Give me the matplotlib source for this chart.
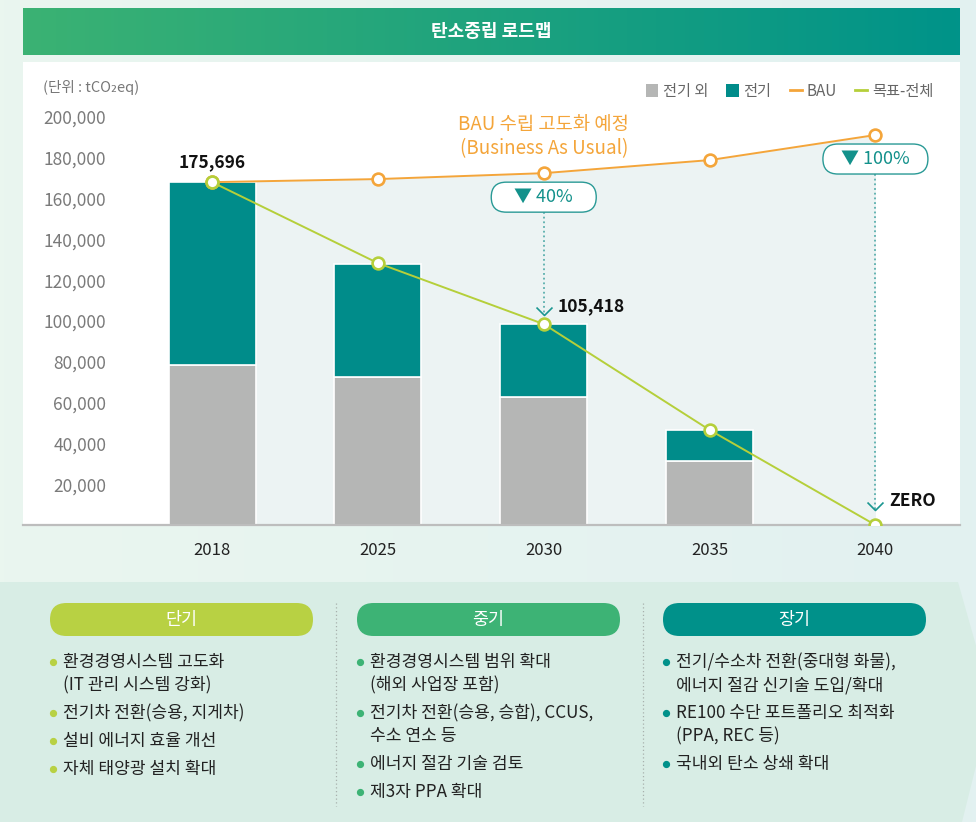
import numpy as np
import matplotlib.pyplot as plt
from matplotlib.patches import FancyBboxPatch, Polygon
from matplotlib.lines import Line2D
from matplotlib.path import Path
from matplotlib.colors import LinearSegmentedColormap

plt.rcParams['font.family'] = ['Noto Sans CJK KR', 'DejaVu Sans']

# ---- data ----
years = ["2018", "2025", "2030", "2035", "2040"]
non_elec = [78400, 72500, 62700, 31400, 0]
elec = [89700, 55500, 35800, 15200, 0]
bau = [168100, 169600, 172500, 178900, 191200]
target = [168100, 128400, 98500, 46600, 0]
yticks = [20000, 40000, 60000, 80000, 100000, 120000, 140000, 160000, 180000, 200000]

title = "탄소중립 로드맵"
unit_label = "(단위 : tCO\u2082eq)"
legend_labels = ["전기 외", "전기", "BAU", "목표-전체"]
bau_note = "BAU 수립 고도화 예정\n(Business As Usual)"
start_label = "175,696"
callouts = [(2, "▼ 40%", "105,418"), (4, "▼ 100%", "ZERO")]

phases = ["단기", "중기", "장기"]
phase_colors = ["#b8d143", "#3db375", "#00918a"]
short_term = ["환경경영시스템 고도화\n(IT 관리 시스템 강화)", "전기차 전환(승용, 지게차)",
              "설비 에너지 효율 개선", "자체 태양광 설치 확대"]
mid_term = ["환경경영시스템 범위 확대\n(해외 사업장 포함)", "전기차 전환(승용, 승합), CCUS,\n수소 연소 등",
            "에너지 절감 기술 검토", "제3자 PPA 확대"]
long_term = ["전기/수소차 전환(중대형 화물),\n에너지 절감 신기술 도입/확대",
             "RE100 수단 포트폴리오 최적화\n(PPA, REC 등)", "국내외 탄소 상쇄 확대"]

GRAY = "#b5b6b5"
TEAL = "#008c8a"
ORANGE = "#f4a53a"
LIME = "#b5cf3a"

W, H = 976, 822
fig = plt.figure(figsize=(W / 100, H / 100), dpi=100)

# ---- background layer in pixel coordinates ----
bg = fig.add_axes([0, 0, 1, 1])
grad = np.linspace(0, 1, 256).reshape(1, -1)
bg.imshow(grad, cmap=LinearSegmentedColormap.from_list("bg", ["#eaf6ef", "#e2f1f1"]),
          extent=[0, W, H, 0], aspect="auto")
bg.imshow(grad, cmap=LinearSegmentedColormap.from_list("tb", ["#3bb273", "#009389"]),
          extent=[23, 960, 55, 8], aspect="auto")
bg.text(491.5, 31.5, title, ha="center", va="center", color="white", fontsize=13, weight="bold")

bg.add_patch(Polygon([(0, 582), (958, 582), (992, 702), (962, 822), (0, 822)],
                     closed=True, fc="#d8ede5", ec="none"))
for sx in [336, 643]:
    bg.plot([sx, sx], [603, 806], ls=(0, (1, 2)), color="#a8b0ad", lw=0.9)

col_x = [50, 357, 663]
for x0, name, color, items in zip(col_x, phases, phase_colors, [short_term, mid_term, long_term]):
    bg.add_patch(FancyBboxPatch((x0, 603), 263, 33, boxstyle="round,pad=0,rounding_size=16.5",
                                fc=color, ec="none"))
    bg.text(x0 + 131.5, 619.5, name, ha="center", va="center", color="white", fontsize=12.5)
    y = 662
    for item in items:
        lines = item.split("\n")
        bg.plot(x0 + 3, y, "o", ms=4.2, color=color)
        for j, line in enumerate(lines):
            bg.text(x0 + 13, y + j * 23, line, ha="left", va="center", color="#222222", fontsize=12.3)
        y += 23 * (len(lines) - 1) + 28

bg.set_xlim(0, W)
bg.set_ylim(H, 0)
bg.axis("off")

# ---- chart ----
ax_w, ax_h = 937, 463
ax = fig.add_axes([23 / W, 1 - 525 / H, ax_w / W, ax_h / H])
xlim = (-1.14, 4.51)
ylim = (0, 227000)
px_x = (xlim[1] - xlim[0]) / ax_w
px_y = (ylim[1] - ylim[0]) / ax_h
x = np.arange(len(years))

ax.fill_between(x, 0, bau, color="#ecf3f3", lw=0, zorder=1)
b1 = ax.bar(x, non_elec, width=0.524, color=GRAY, edgecolor="white", lw=1.2, zorder=2)
b2 = ax.bar(x, elec, width=0.524, bottom=non_elec, color=TEAL, edgecolor="white", lw=1.2, zorder=2)
ax.plot(x, bau, color=ORANGE, lw=1.4, marker="o", ms=8.5, mfc="white", mec=ORANGE, mew=1.9, zorder=4)
ax.plot(x, target, color=LIME, lw=1.4, marker="o", ms=8.5, mfc="white", mec=LIME, mew=1.9, zorder=5)

handles = [b1, b2, Line2D([], [], color=ORANGE, lw=2), Line2D([], [], color=LIME, lw=2)]
leg = ax.legend(handles, legend_labels, loc="center right", bbox_to_anchor=(0.986, 0.937), ncol=4,
                frameon=False, fontsize=11, labelcolor="#666666", handlelength=0.8, handleheight=0.9,
                handletextpad=0.3, columnspacing=1.2)
for h in leg.legend_handles[:2]:
    h.set_edgecolor("none")

ax.text(0.0213, 0.946, unit_label, transform=ax.transAxes, ha="left", va="center",
        color="#777777", fontsize=10.5)

ax.text(2, bau[2] + 37 * px_y, bau_note, ha="center", va="center", color=ORANGE, fontsize=13.5,
        linespacing=1.2, weight="medium")
ax.annotate(start_label, (0, target[0]), xytext=(0, 14), textcoords="offset points",
            ha="center", va="center", fontsize=12.5, weight="bold", color="#111111")

chevron = Path([(-1, 1), (0, 0), (1, 1)], [Path.MOVETO, Path.LINETO, Path.LINETO])
tip_gap = {2: 9, 4: 15}
for i, box_text, value_text in callouts:
    yc = bau[i] - 24 * px_y
    bw, bh = 105 * px_x, 30 * px_y
    ax.add_patch(FancyBboxPatch((i - bw / 2, yc - bh / 2), bw, bh,
                                boxstyle=f"round,pad=0,rounding_size={15 * px_x}",
                                mutation_aspect=px_y / px_x, fc="white", ec="#2a9a96", lw=1, zorder=6))
    ax.text(i, yc, box_text, ha="center", va="center", color="#13918b", fontsize=13,
            weight="medium", zorder=7)
    tip = target[i] + tip_gap[i] * px_y
    ax.plot([i, i], [yc - bh / 2, tip], ls=(0, (1, 1.6)), color="#5aafad", lw=1.3, zorder=3)
    ax.plot([i], [tip], marker=chevron, ms=11.5, mfc="none", mec="#1a9690", mew=1.2, zorder=6)
    ax.annotate(value_text, (i, target[i]), xytext=(10, 13 if i == 2 else 17),
                textcoords="offset points", ha="left", va="center", fontsize=12.5,
                weight="bold", color="#111111")

ax.set_xlim(*xlim)
ax.set_ylim(*ylim)
ax.set_xticks(x, years)
ax.set_yticks(yticks, [f"{v:,}" for v in yticks])
ax.tick_params(axis="x", length=0, pad=12, labelsize=12, labelcolor="#222222")
ax.tick_params(axis="y", length=0, pad=-60, labelsize=12.5, labelcolor="#7a7a7a")
for s in ["left", "top", "right"]:
    ax.spines[s].set_visible(False)
ax.spines["bottom"].set_color("#bdbdbd")
ax.spines["bottom"].set_linewidth(1.6)
ax.set_facecolor("white")

fig.savefig("out.png", dpi=100)
